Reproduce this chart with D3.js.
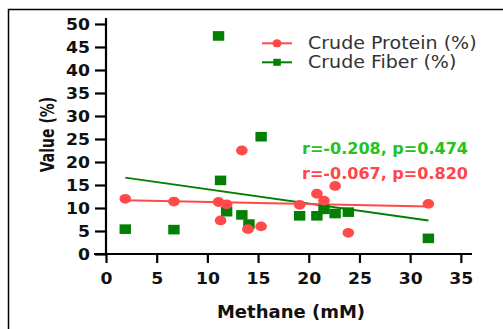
<!DOCTYPE html>
<html><head><meta charset="utf-8">
<script src="https://cdn.jsdelivr.net/npm/d3@7"></script>
<style>body{margin:0;background:#fff;}svg{display:block;}</style>
</head><body>
<svg id="c" width="503" height="329"></svg>
<script>
// ---- data ----
const methaneProtein = [1.9, 6.7, 11.1, 11.9, 11.3, 13.4, 14.0, 15.3, 19.1, 20.8, 22.6, 21.5, 23.9, 31.8];
const crudeProtein   = [12.0, 11.4, 11.3, 10.8, 7.3, 22.5, 5.4, 6.0, 10.7, 13.1, 14.8, 11.6, 4.6, 10.9];
const methaneFiber   = [1.9, 6.7, 11.1, 11.3, 11.9, 13.4, 14.1, 15.3, 19.1, 20.8, 21.5, 22.6, 23.9, 31.8];
const crudeFiber     = [5.4, 5.3, 47.4, 16.0, 9.2, 8.5, 6.5, 25.5, 8.3, 8.3, 9.7, 8.8, 9.1, 3.4];
const fitX           = [1.9, 31.8];
const proteinFit     = [11.7, 10.3];
const fiberFit       = [16.6, 7.3];
const xTicks = [0, 5, 10, 15, 20, 25, 30, 35];
const yTicks = [0, 5, 10, 15, 20, 25, 30, 35, 40, 45, 50];
const seriesNames = ["Crude Protein (%)", "Crude Fiber (%)"];
const statLabels = ["r=-0.208, p=0.474", "r=-0.067, p=0.820"];
const xTitle = "Methane (mM)";
const yTitle = "Value (%)";

const RED = "#ff4a4a", GREEN = "#037f03";
const RED_TXT = "#ff4545", GREEN_TXT = "#22c322";

const svg = d3.select("#c");
svg.append("rect").attr("x", 8.5).attr("y", 9.5).attr("width", 520).attr("height", 340)
  .attr("fill", "none").attr("stroke", "#000").attr("stroke-width", 1.5);

const x = d3.scaleLinear().domain([0, 36.1]).range([106, 472]);
const y = d3.scaleLinear().domain([0, 51.3]).range([254, 18]);

const FONT = "DejaVu Sans, Verdana, sans-serif";

// axes
const gx = svg.append("g").attr("transform", "translate(0,254)")
  .call(d3.axisBottom(x).tickValues(xTicks).tickSize(9).tickPadding(5).tickFormat(d3.format("d")));
const gy = svg.append("g").attr("transform", "translate(106,0)")
  .call(d3.axisLeft(y).tickValues(yTicks).tickSize(11).tickPadding(5).tickFormat(d3.format("d")));
[gx, gy].forEach(g => {
  g.select(".domain").attr("stroke", "#000").attr("stroke-width", 2.2);
  g.selectAll(".tick line").attr("stroke", "#000").attr("stroke-width", 2.2);
  g.selectAll(".tick text").attr("fill", "#111").attr("font-family", FONT)
    .attr("font-weight", "bold").attr("font-size", 15);
});
gx.select(".domain").attr("d", `M${x(0)-12},0H${x.range()[1]}`);
gy.select(".domain").attr("d", `M0,${y(0)}V${y.range()[1]}`);
gx.selectAll(".tick text").attr("y", 0).attr("dy", 0)
  .attr("transform", "translate(0,29.5) scale(1.15,1)");
gy.selectAll(".tick text").attr("x", 0).attr("dy", "0.36em")
  .attr("transform", "translate(-16,0) scale(1.15,1)");

// axis titles
svg.append("text").text(xTitle).attr("font-family", FONT).attr("font-weight", "bold")
  .attr("font-size", 17.5).attr("fill", "#111").attr("text-anchor", "middle")
  .attr("transform", "translate(291,317.5) scale(1.03,1)");
svg.append("text").text(yTitle).attr("font-family", FONT).attr("font-weight", "bold")
  .attr("font-size", 14).attr("fill", "#111").attr("text-anchor", "middle")
  .attr("transform", "translate(54,134.5) rotate(-90) scale(1,1.4)");

// fit lines
const line = d3.line().x(d => x(d[0])).y(d => y(d[1]));
svg.append("path").attr("d", line(d3.zip(fitX, fiberFit))).attr("fill", "none")
  .attr("stroke", GREEN).attr("stroke-width", 2);
svg.append("path").attr("d", line(d3.zip(fitX, proteinFit))).attr("fill", "none")
  .attr("stroke", RED).attr("stroke-width", 2);

// points
svg.append("g").selectAll("rect").data(d3.zip(methaneFiber, crudeFiber)).join("rect")
  .attr("x", d => x(d[0]) - 5.7).attr("y", d => y(d[1]) - 4.8)
  .attr("width", 11.4).attr("height", 9.6).attr("fill", GREEN);
svg.append("g").selectAll("ellipse").data(d3.zip(methaneProtein, crudeProtein)).join("ellipse")
  .attr("cx", d => x(d[0])).attr("cy", d => y(d[1]))
  .attr("rx", 5.8).attr("ry", 4.9).attr("fill", RED);

// legend
const lg = svg.append("g");
[0, 1].forEach(i => {
  const ly = 43.3 + i * 19;
  lg.append("line").attr("x1", 262).attr("x2", 292).attr("y1", ly).attr("y2", ly)
    .attr("stroke", i ? GREEN : RED).attr("stroke-width", 2);
  if (i === 0) lg.append("ellipse").attr("cx", 277).attr("cy", ly).attr("rx", 4.6).attr("ry", 4).attr("fill", RED);
  else lg.append("rect").attr("x", 273.3).attr("y", ly - 3.5).attr("width", 7.5).attr("height", 7).attr("fill", GREEN);
  lg.append("text").text(seriesNames[i]).attr("font-family", FONT).attr("font-size", 17.3).attr("fill", "#333")
    .attr("transform", `translate(308,${ly + 6}) scale(1.1,1)`);
});

// stats
statLabels.forEach((s, i) => {
  svg.append("text").text(s).attr("font-family", FONT).attr("font-weight", "bold")
    .attr("font-size", 15).attr("fill", i ? RED_TXT : GREEN_TXT)
    .attr("transform", `translate(302,${153.5 + i * 25.5}) scale(1.07,1)`);
});
</script>
</body></html>
